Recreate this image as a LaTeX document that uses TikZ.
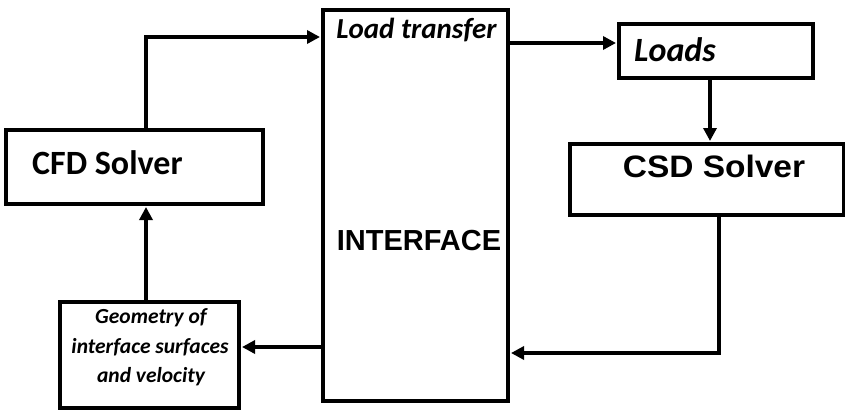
\documentclass[tikz,border=0pt]{standalone}
\usepackage{fontspec}
\setmainfont{Carlito}
\newfontfamily\arialf{Liberation Sans}
\usetikzlibrary{arrows.meta}
\tikzset{
  box/.style={draw=black, line width=4pt, fill=white, rectangle, inner sep=0pt},
  arr/.style={line width=4pt, -{Triangle[length=13pt,width=13pt]}, shorten >=1pt},
  lbl/.style={inner sep=0pt, anchor=base, text=black},
}
\begin{document}
\begin{tikzpicture}[x=1pt,y=-1pt]
\useasboundingbox (0,0) rectangle (845,412);
% boxes
\node[box, minimum width=257pt, minimum height=74pt] (cfd) at (134.5,167) {};
\node[box, minimum width=185pt, minimum height=391pt] (iface) at (415.5,205.5) {};
\node[box, minimum width=194pt, minimum height=54pt] (loads) at (716,51) {};
\node[box, minimum width=274pt, minimum height=71pt] (csd) at (707,179.5) {};
\node[box, minimum width=179pt, minimum height=106pt] (geo) at (149.5,355) {};
% texts
\node[lbl, anchor=base west] (tcfd) at (32,174) {\fontsize{34}{38}\selectfont\bfseries CFD Solver};
\node[lbl] (tload) at (416.5,38) {\fontsize{29}{32}\selectfont\bfseries\itshape Load transfer};
\node[lbl] (tiface) at (419,250) {\arialf\fontsize{29}{32}\selectfont\bfseries INTERFACE};
\node[lbl, anchor=base west] (tloads) at (634,62) {\fontsize{34}{38}\selectfont\bfseries\itshape Loads};
\node[lbl, xscale=1.08] (tcsd) at (714,177) {\arialf\fontsize{31}{34}\selectfont\bfseries CSD Solver};
\node[lbl] (tg1) at (151,323) {\fontsize{21.5}{24}\selectfont\bfseries\itshape Geometry of};
\node[lbl] (tg2) at (150,353) {\fontsize{21.5}{24}\selectfont\bfseries\itshape interface surfaces};
\node[lbl] (tg3) at (151,382) {\fontsize{21.5}{24}\selectfont\bfseries\itshape and velocity};
% connector helper coordinates
\coordinate (c1) at (146,37);
\coordinate (c2) at (560,43);
\coordinate (c3) at (710,110);
\coordinate (c4) at (719,353);
\coordinate (c5) at (280,347);
\coordinate (c6) at (146,255);
% connectors
\draw[arr] (cfd.north -| c1) -- (c1) -- (iface.west |- c1);
\draw[arr] (iface.east |- c2) -- (loads.west |- c2);
\draw[arr] (loads.south -| c3) -- (csd.north -| c3);
\draw[arr] (csd.south -| c4) -- (c4) -- (iface.east |- c4);
\draw[arr] (iface.west |- c5) -- (geo.east |- c5);
\draw[arr] (geo.north -| c6) -- (cfd.south -| c6);
\end{tikzpicture}
\end{document}
